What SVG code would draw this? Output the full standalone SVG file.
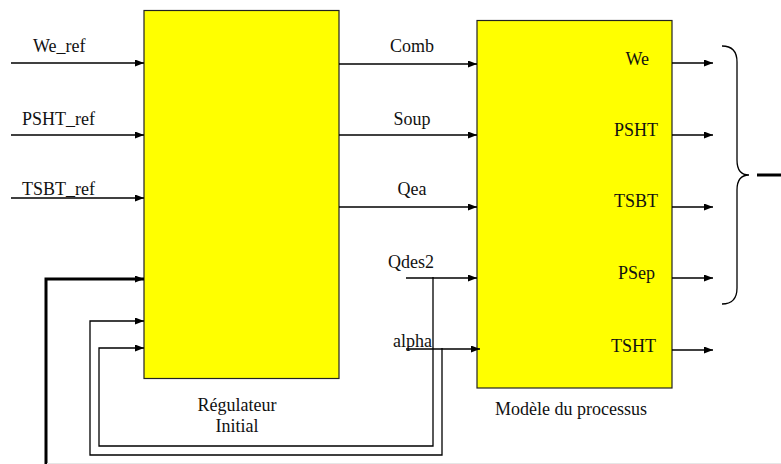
<svg xmlns="http://www.w3.org/2000/svg" width="781" height="464" viewBox="0 0 781 464">
<style>
.box{fill:#ffff00;stroke:#222;stroke-width:1.2}
.ln{fill:none;stroke:#000;stroke-width:1.3}
.thick{fill:none;stroke:#000;stroke-width:3}
.m{text-anchor:middle}
.e{text-anchor:end}
</style>
<defs>
<marker id="ah" markerUnits="userSpaceOnUse" markerWidth="10" markerHeight="8" refX="9" refY="3.5" orient="auto">
<path d="M0,0 L9,3.5 L0,7 z" fill="#000"/>
</marker>
</defs>
<rect width="781" height="464" fill="#fff"/>
<g font-family="'Liberation Serif', 'Times New Roman', Times, serif" font-size="18" fill="#111">
<g id="regulateur">
<rect class="box" x="144" y="10.5" width="195" height="368"/>
<text class="m" x="237" y="411">Régulateur</text>
<text class="m" x="237" y="432">Initial</text>
</g>
<g id="modele">
<rect class="box" x="477" y="20.5" width="195" height="367.5"/>
<text class="e" x="649" y="65">We</text>
<text class="e" x="658" y="136">PSHT</text>
<text class="e" x="658" y="207">TSBT</text>
<text class="e" x="655" y="279">PSep</text>
<text class="e" x="656" y="352">TSHT</text>
<text class="m" x="571" y="415">Modèle du processus</text>
</g>
<g id="labels">
<text x="33" y="52">We_ref</text>
<text x="22" y="125">PSHT_ref</text>
<text x="22" y="195">TSBT_ref</text>
<text class="m" x="412" y="52">Comb</text>
<text class="m" x="412" y="125">Soup</text>
<text class="m" x="412" y="195">Qea</text>
<text x="388" y="268">Qdes2</text>
<text x="393" y="347">alpha</text>
</g>
</g>
<g id="connectors">
<line class="ln" x1="11" y1="63" x2="144" y2="63" marker-end="url(#ah)"/>
<line class="ln" x1="11" y1="135" x2="144" y2="135" marker-end="url(#ah)"/>
<line class="ln" x1="11" y1="198" x2="144" y2="198" marker-end="url(#ah)"/>
<line class="ln" x1="339" y1="64" x2="477" y2="64" marker-end="url(#ah)"/>
<line class="ln" x1="339" y1="135" x2="477" y2="135" marker-end="url(#ah)"/>
<line class="ln" x1="339" y1="207" x2="477" y2="207" marker-end="url(#ah)"/>
<line class="ln" x1="406" y1="278" x2="477" y2="278" marker-end="url(#ah)"/>
<line class="ln" x1="406" y1="349" x2="480" y2="349" marker-end="url(#ah)"/>
<path class="ln" d="M433,277 V446 H99 V348 H144" marker-end="url(#ah)"/>
<path class="ln" d="M442,348 V455 H90 V321 H144" marker-end="url(#ah)"/>
<path class="thick" d="M46,464 V279 H144" marker-end="url(#ah)"/>
<line class="ln" x1="672" y1="63" x2="713" y2="63" marker-end="url(#ah)"/>
<line class="ln" x1="672" y1="135" x2="713" y2="135" marker-end="url(#ah)"/>
<line class="ln" x1="672" y1="207" x2="713" y2="207" marker-end="url(#ah)"/>
<line class="ln" x1="672" y1="278" x2="713" y2="278" marker-end="url(#ah)"/>
<line class="ln" x1="672" y1="350" x2="713" y2="350" marker-end="url(#ah)"/>
<path class="ln" d="M722,46 Q737,46 737,62 L737,160 Q737,175 749,175 Q737,175 737,190 L737,288 Q737,304 722,304" stroke-width="1.1"/>
<line class="thick" x1="757" y1="175" x2="781" y2="175"/>
<line x1="47" y1="463.5" x2="781" y2="463.5" stroke="#e6e6e6" stroke-width="1"/>
</g>
</svg>
